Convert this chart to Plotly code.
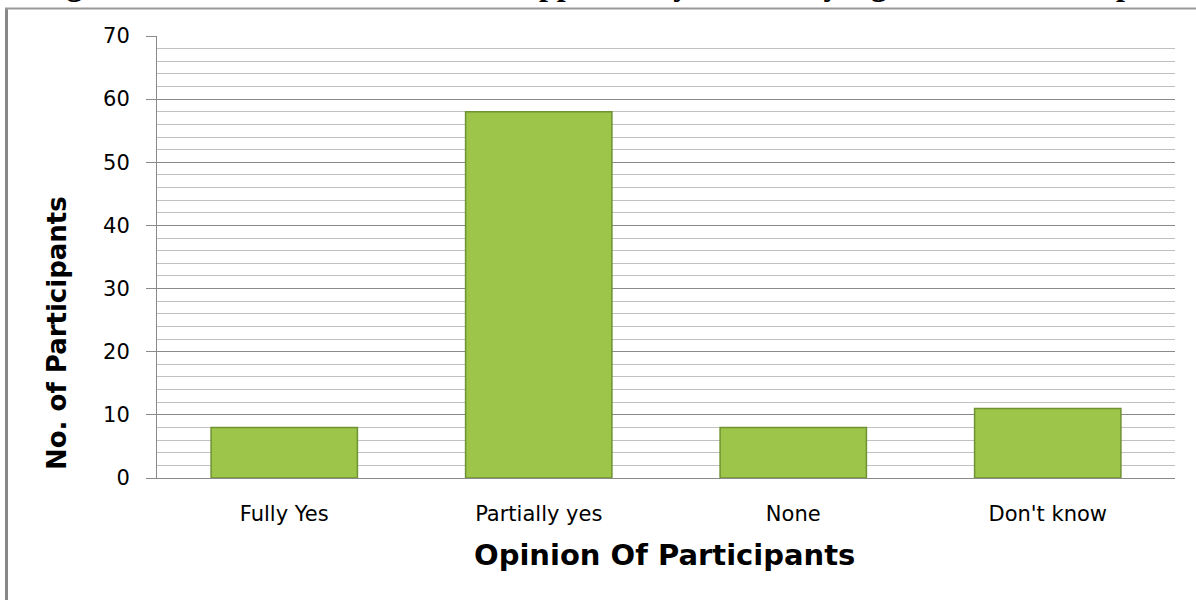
import plotly.graph_objects as go

categories = ["Fully Yes", "Partially yes", "None", "Don't know"]
participants = [8, 58, 8, 11]
y_ticks = [0, 10, 20, 30, 40, 50, 60, 70]

title_text = "Figure 6: Enacted laws, which are supported by subsidiary legislations in Ethiopia"
x_title = "Opinion Of Participants"
y_title = "No. of Participants"

W, H = 1196, 600
ML, MR, MT, MB = 157, 21, 36, 122
PW, PH = W - ML - MR, H - MT - MB

def px_x(px):
    return (px - ML) / PW

def px_y(py):
    return 1 - (py - MT) / PH

fig = go.Figure()
fig.add_trace(go.Bar(
    x=categories, y=participants, width=0.575,
    marker=dict(color="#9cc54a", line=dict(color="#6f9232", width=1.5)),
    hoverinfo="x+y",
))

fig.update_layout(
    width=W, height=H,
    margin=dict(l=ML, r=MR, t=MT, b=MB, pad=0),
    paper_bgcolor="white", plot_bgcolor="white",
    showlegend=False,
    font=dict(family="DejaVu Sans", color="#000000"),
    bargap=0.425,
)
fig.update_yaxes(
    range=[0, 70], tickvals=y_ticks, ticktext=[str(v) for v in y_ticks],
    showgrid=True, gridcolor="#8a8a8a", gridwidth=1,
    minor=dict(dtick=2, showgrid=True, gridcolor="#c0c0c0", gridwidth=1),
    showline=True, linecolor="#8a8a8a", linewidth=1,
    ticks="outside", ticklen=10, tickcolor="#8a8a8a",
    tickfont=dict(size=21, family="DejaVu Sans", color="#000"),
    ticklabelstandoff=12,
    zeroline=False,
)
fig.update_xaxes(
    showgrid=False, showline=True, linecolor="#8a8a8a", linewidth=1,
    ticks="", tickfont=dict(size=21, family="DejaVu Sans", color="#000"),
    ticklabelstandoff=17,
)

# axis titles as annotations
fig.add_annotation(text=y_title, xref="paper", yref="paper",
                   x=px_x(57), y=px_y(333), textangle=-90, showarrow=False,
                   font=dict(size=26, family="DejaVu Sans", color="#000", weight="bold"),
                   xanchor="center", yanchor="middle")
fig.add_annotation(text=x_title, xref="paper", yref="paper",
                   x=px_x(664), y=px_y(555), showarrow=False,
                   font=dict(size=29, family="DejaVu Sans", color="#000", weight="bold"),
                   xanchor="center", yanchor="middle")

# partially visible caption at the very top
fig.add_annotation(text=title_text, xref="paper", yref="paper",
                   x=px_x(598), y=1, yanchor="bottom", yshift=MT - 4, showarrow=False,
                   font=dict(size=32, family="Liberation Serif", color="#000", weight="bold"),
                   xanchor="center")

# outer frame (left and top)
fig.add_shape(type="line", xref="paper", yref="paper",
              x0=px_x(6.5), x1=px_x(6.5), y0=px_y(8), y1=px_y(602),
              line=dict(color="#888888", width=3))
fig.add_shape(type="line", xref="paper", yref="paper",
              x0=px_x(5), x1=px_x(1200), y0=px_y(8.5), y1=px_y(8.5),
              line=dict(color="#999999", width=2))

fig.write_html("out.html", config={"displayModeBar": False},
               post_script="document.body.style.margin='0';document.body.style.overflow='hidden';")
